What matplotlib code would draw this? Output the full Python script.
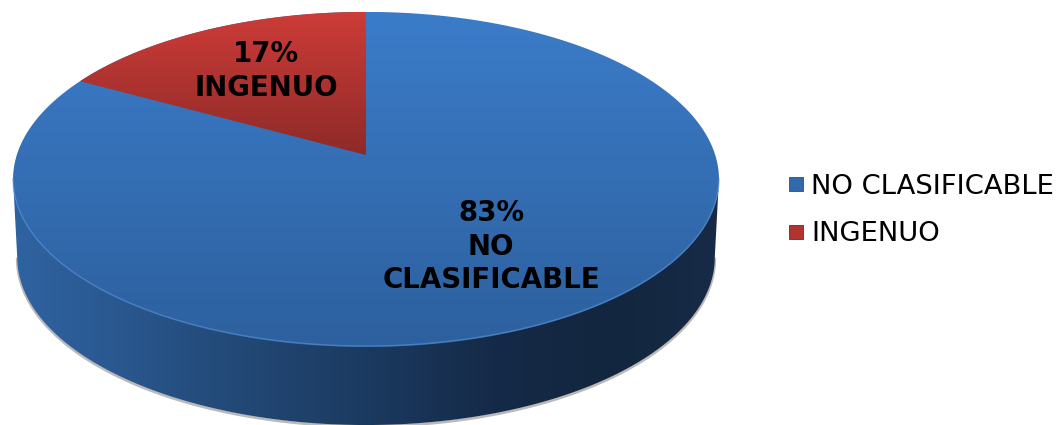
import numpy as np
import matplotlib
matplotlib.use("Agg")
import matplotlib.pyplot as plt
from matplotlib.colors import LinearSegmentedColormap as LSC
from matplotlib.lines import Line2D
from matplotlib.patches import Polygon

categories = ["NO CLASIFICABLE", "INGENUO"]
percents = [83, 17]
point_labels = ["83%\nNO\nCLASIFICABLE", "17%\nINGENUO"]

W, H = 1060, 425
APEX = (366.0, 155.0)
A, K, C = 164.0, 0.146, 349.2
DEPTH = 78.0
TAPER = 0.988

def project(theta):
    """theta measured from the top of the pie, counter-clockwise, in radians."""
    u, v = -np.sin(theta), np.cos(theta)
    w = 1 + K * v
    return APEX[0] + C * u / w, APEX[1] - A * v / w

def gradient(ax, colors, vertical, clip, extent):
    cmap = LSC.from_list("g", colors)
    g = np.linspace(0, 1, 256)
    g = g[:, None] if vertical else g[None, :]
    im = ax.imshow(g, cmap=cmap, extent=extent, aspect="auto", interpolation="bilinear", zorder=clip.get_zorder())
    im.set_clip_path(clip)

fig = plt.figure(figsize=(W / 100, H / 100), dpi=100, facecolor="white")
ax = fig.add_axes([0, 0, 1, 1])
ax.axis("off")

t = np.linspace(0, 2 * np.pi, 1441)
tx, ty = project(t)

# lower half of the rim: from the leftmost point round the front to the rightmost
i0, i1 = np.argmin(tx), np.argmax(tx)
bx, by = tx[i0:i1 + 1], ty[i0:i1 + 1]
fx = APEX[0] + (bx - APEX[0]) * TAPER   # the far edge of the wall is a little narrower
fy = by + DEPTH

# shadow beneath the side wall
ax.add_line(Line2D(fx, fy + 1.2, color="#a9a9a9", lw=2.0, alpha=0.8, zorder=1))

# side wall
side = Polygon(np.c_[np.r_[fx, bx[::-1]], np.r_[fy, by[::-1] - 1]], closed=True, fc="none", ec="none", zorder=2)
ax.add_patch(side)
gradient(ax, [(0, "#2f63a1"), (0.12, "#2b5a93"), (0.3, "#234a78"), (0.5, "#1b3a60"),
              (0.68, "#152a48"), (0.85, "#13263f"), (1, "#172b47")], False, side, (13, 720, H, 0))

# top face: blue slice fills the whole disc first
top = Polygon(np.c_[tx, ty], closed=True, fc="none", ec="none", zorder=3)
ax.add_patch(top)
gradient(ax, ["#3b7cc9", "#2d609e"], True, top, (0, W, 347, 12))

# red slice, size from the values
share = percents[1] / sum(percents)
ts = np.linspace(0, 2 * np.pi * share, 200)
rx, ry = project(ts)
red = Polygon(np.c_[np.r_[APEX[0], rx], np.r_[APEX[1], ry]], closed=True, fc="none", ec="none", zorder=4)
ax.add_patch(red)
gradient(ax, ["#cd3c38", "#8e2a28"], True, red, (0, W, 155, 12))

# soft rim of the top face
ax.add_line(Line2D(bx, by - 1, color="#5c93d6", lw=1.0, alpha=0.6, zorder=5))

lab_kw = dict(ha="center", va="center", fontsize=19.9, fontweight="bold", family="DejaVu Sans",
              color="black", linespacing=1.24, zorder=6)
ax.text(491, 246.5, point_labels[0], **lab_kw)
ax.text(266, 71, point_labels[1], **lab_kw)

handles = [Line2D([], [], ls="none", marker="s", ms=10.5, mfc=c, mec=e, mew=0.6)
           for c, e in zip(["#3269ab", "#b23431"], ["#25507f", "#82201e"])]
ax.legend(handles, categories, loc="center left", bbox_to_anchor=(788 / W, 1 - 210.5 / H),
          frameon=False, handlelength=0.55, handletextpad=0.3,
          labelspacing=0.79, borderpad=0, borderaxespad=0,
          prop={"family": "DejaVu Sans", "size": 19.7})

ax.set_xlim(0, W)
ax.set_ylim(H, 0)
fig.savefig("out.png", dpi=100, facecolor="white")
